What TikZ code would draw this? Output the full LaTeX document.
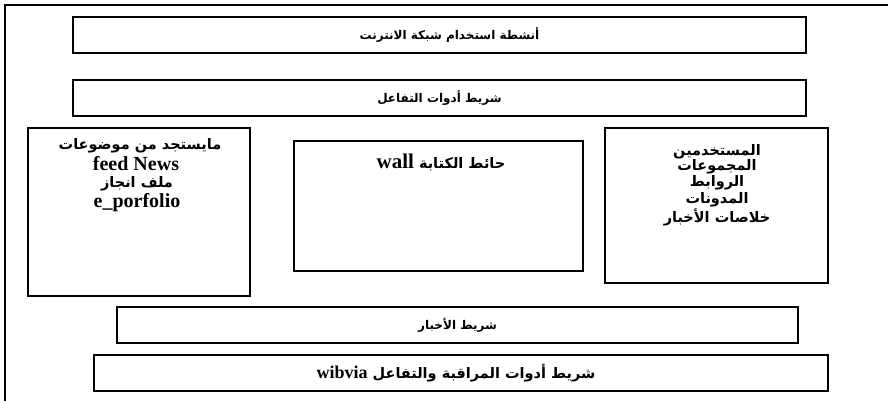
\documentclass[tikz,border=0pt]{standalone}
\usepackage{fontspec}
\setmainfont{Liberation Serif}
\newfontfamily\arabicfont[Script=Arabic]{DejaVu Sans}
\TeXXeTstate=1
\usetikzlibrary{fit}
\tikzset{
  box/.style={draw, line width=1.7pt, inner sep=0pt},
  frameline/.style={line width=1.7pt},
  stripfont/.style={inner sep=0pt, font=\arabicfont\bfseries\fontsize{12}{13}\selectfont},
  bigar/.style={inner sep=0pt, font=\arabicfont\bfseries\fontsize{14.5}{16}\selectfont},
  bigla/.style={inner sep=0pt, font=\bfseries\fontsize{20}{21}\selectfont},
}
\begin{document}
\begin{tikzpicture}[x=1pt,y=-1pt]
\useasboundingbox (0,0) rectangle (888,400);
% outer frame (only top and left edges visible)
\coordinate (fbl) at (5,402);
\coordinate (ftl) at (5,5);
\coordinate (ftr) at (890,5);
\draw[frameline] (fbl) -- (ftl) -- (ftr);

% boxes
\node[box, fit={(73,17) (806,53)}] (b1) {};
\node[box, fit={(73,80) (806,116)}] (b2) {};
\node[box, fit={(28,128) (250,296)}] (bl) {};
\node[box, fit={(294,141) (583,271)}] (bm) {};
\node[box, fit={(605,128) (828,283)}] (br) {};
\node[box, fit={(117,307) (798,343)}] (b4) {};
\node[box, fit={(94,355) (828,391)}] (b5) {};

% strip texts
\node[stripfont] (t1) at ([xshift=10pt]b1.center) {\beginR أنشطة استخدام شبكة الانترنت\endR};
\node[stripfont] (t2) at (b2.center) {\beginR شريط أدوات التفاعل\endR};
\node[stripfont] (t4) at (b4.center) {\beginR شريط الأخبار\endR};
\node[stripfont, font=\arabicfont\bfseries\fontsize{14.5}{15}\selectfont] (t5) at ([xshift=-5pt]b5.center) {\beginR شريط أدوات المراقبة والتفاعل \beginL{\rmfamily\bfseries\fontsize{18}{18}\selectfont wibvia}\endL\endR};

% left box texts
\node[bigar] (l1) at (140,146) {\beginR مايستجد من موضوعات\endR};
\node[bigla] (l2) at (136,164) {feed News};
\node[bigar] (l3) at (137,184) {\beginR ملف انجاز\endR};
\node[bigla] (l4) at (137,203) {e\_porfolio};

% middle box text
\node[bigar] (m1) at (441,162) {\beginR حائط الكتابة \beginL{\rmfamily\bfseries\fontsize{21}{22}\selectfont wall}\endL\endR};

% right box texts
\node[bigar] (r1) at (717,152) {\beginR المستخدمين\endR};
\node[bigar] (r2) at (717,167) {\beginR المجموعات\endR};
\node[bigar] (r3) at (717,183) {\beginR الروابط\endR};
\node[bigar] (r4) at (717,200) {\beginR المدونات\endR};
\node[bigar] (r5) at (717,217) {\beginR خلاصات الأخبار\endR};
\end{tikzpicture}
\end{document}
